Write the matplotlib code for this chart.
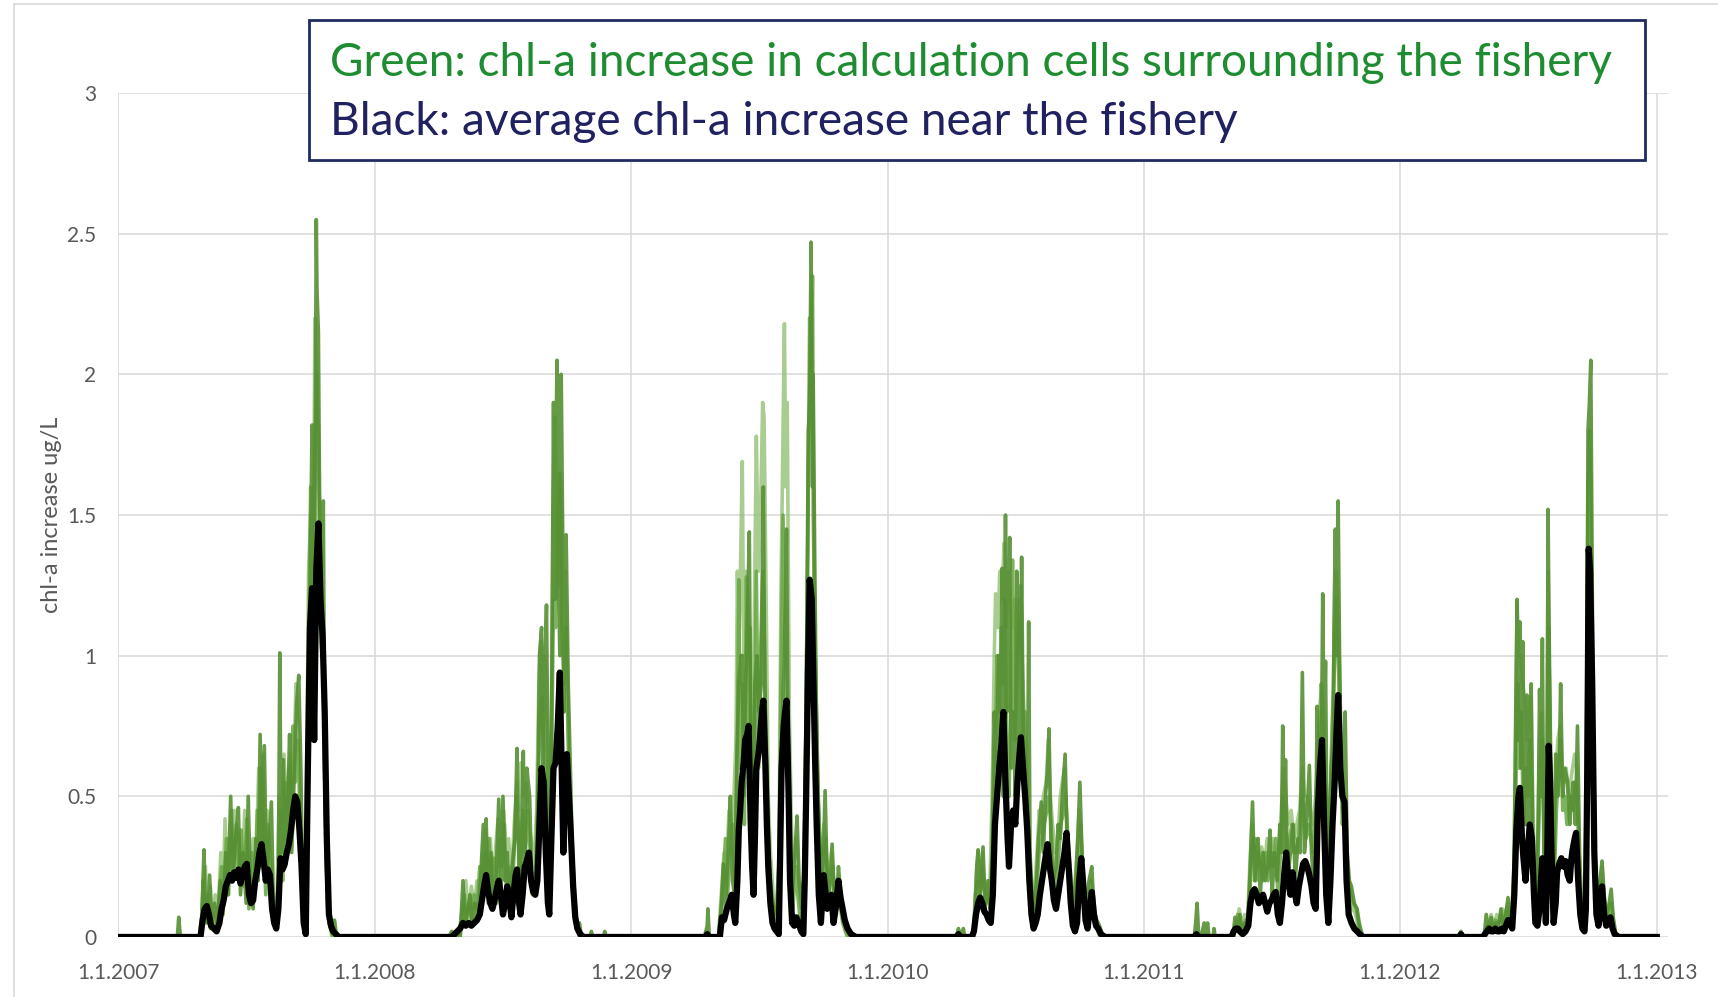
import matplotlib
matplotlib.use("Agg")
import matplotlib.pyplot as plt
import matplotlib.patches as patches
import pandas as pd

# chl-a increase as (day of year, value) per season
black_2007 = [(117,0),(120,0.06),(123,0.10),(126,0.11),(129,0.08),(132,0.04),(136,0.03),(140,0.02),(144,0.05),(147,0.10),(150,0.13),(153,0.18),(156,0.20),(159,0.22),(162,0.20),(165,0.23),(168,0.21),(171,0.24),(174,0.19),(177,0.22),(180,0.25),(183,0.26),(186,0.15),(189,0.12),(192,0.13),(195,0.20),(198,0.24),(201,0.30),(204,0.33),(207,0.27),(210,0.20),(213,0.24),(216,0.22),(219,0.10),(222,0.05),(225,0.03),(228,0.10),(231,0.28),(234,0.24),(237,0.26),(240,0.30),(243,0.33),(246,0.38),(249,0.45),(252,0.50),(255,0.48),(258,0.38),(261,0.25),(264,0.05),(267,0.01),(270,0.60),(273,1.10),(276,1.24),(279,0.70),(282,1.30),(285,1.47),(288,1.20),(291,1.07),(294,0.80),(297,0.35),(300,0.08),(303,0.04),(306,0.02),(310,0.01),(314,0)]
black_2008 = [(110,0),(114,0.01),(118,0.02),(122,0.03),(126,0.05),(130,0.04),(134,0.05),(138,0.04),(142,0.05),(146,0.06),(150,0.08),(153,0.13),(156,0.18),(159,0.22),(162,0.16),(165,0.12),(168,0.10),(171,0.13),(174,0.17),(177,0.20),(180,0.15),(183,0.08),(186,0.12),(189,0.18),(192,0.14),(195,0.07),(198,0.15),(201,0.22),(203,0.24),(206,0.12),(208,0.08),(211,0.15),(214,0.25),(217,0.27),(220,0.30),(223,0.20),(226,0.16),(229,0.15),(232,0.20),(235,0.40),(238,0.60),(241,0.55),(244,0.30),(247,0.12),(249,0.08),(252,0.35),(255,0.60),(258,0.62),(261,0.75),(264,0.94),(267,0.55),(269,0.30),(272,0.60),(274,0.65),(277,0.50),(280,0.35),(283,0.18),(286,0.07),(289,0.03),(293,0.01),(298,0)]
black_2009 = [(105,0),(108,0.01),(111,0),(126,0),(129,0.07),(132,0.06),(136,0.10),(139,0.12),(143,0.15),(146,0.08),(148,0.05),(151,0.20),(153,0.38),(155,0.45),(157,0.55),(160,0.62),(162,0.70),(165,0.72),(167,0.75),(170,0.40),(172,0.25),(174,0.15),(176,0.35),(178,0.60),(181,0.65),(183,0.70),(186,0.80),(188,0.84),(191,0.60),(193,0.40),(195,0.25),(198,0.12),(201,0.05),(204,0.03),(207,0.02),(210,0.01),(212,0.30),(214,0.60),(217,0.75),(219,0.80),(221,0.84),(224,0.50),(226,0.20),(229,0.05),(232,0.04),(235,0.07),(238,0.05),(242,0.02),(245,0.01),(247,0.20),(249,0.50),(252,1.00),(254,1.27),(257,1.20),(259,0.95),(262,0.60),(264,0.40),(267,0.15),(270,0.05),(274,0.22),(277,0.15),(279,0.10),(282,0.12),(285,0.15),(288,0.05),(291,0.10),(295,0.20),(298,0.14),(301,0.10),(304,0.06),(308,0.03),(313,0.01),(320,0)]
black_2010 = [(98,0),(101,0.01),(104,0),(120,0),(123,0.02),(126,0.08),(129,0.12),(132,0.14),(135,0.12),(138,0.09),(141,0.08),(144,0.06),(147,0.05),(150,0.15),(153,0.40),(156,0.50),(159,0.60),(162,0.68),(165,0.80),(168,0.55),(171,0.35),(173,0.25),(176,0.40),(179,0.45),(182,0.40),(185,0.55),(188,0.65),(190,0.71),(193,0.60),(196,0.50),(199,0.38),(202,0.20),(205,0.08),(208,0.03),(211,0.05),(214,0.08),(217,0.15),(220,0.20),(223,0.25),(226,0.30),(228,0.33),(231,0.25),(234,0.20),(237,0.13),(240,0.10),(243,0.15),(246,0.20),(249,0.25),(252,0.30),(255,0.37),(258,0.25),(261,0.12),(264,0.04),(267,0.02),(270,0.05),(273,0.20),(276,0.28),(279,0.18),(282,0.06),(285,0.03),(288,0.10),(291,0.16),(294,0.08),(297,0.04),(300,0.03),(304,0.01),(310,0)]
black_2011 = [(72,0),(75,0.01),(78,0),(125,0),(128,0.02),(131,0.03),(134,0.03),(137,0.02),(141,0.01),(145,0.02),(149,0.04),(152,0.12),(155,0.16),(158,0.17),(161,0.15),(164,0.12),(167,0.14),(170,0.15),(173,0.12),(176,0.09),(179,0.12),(182,0.13),(185,0.15),(188,0.16),(191,0.08),(194,0.05),(197,0.12),(200,0.22),(203,0.30),(206,0.20),(209,0.15),(212,0.23),(215,0.16),(218,0.12),(221,0.18),(224,0.22),(227,0.26),(230,0.27),(233,0.25),(236,0.22),(239,0.18),(242,0.12),(245,0.10),(248,0.45),(251,0.60),(254,0.70),(257,0.40),(260,0.15),(263,0.05),(266,0.20),(269,0.40),(272,0.55),(275,0.75),(277,0.86),(280,0.60),(283,0.50),(286,0.48),(289,0.20),(292,0.08),(296,0.05),(300,0.03),(304,0.02),(308,0.01),(312,0)]
black_2012 = [(84,0),(87,0.01),(90,0),(118,0),(121,0.01),(124,0.02),(127,0.03),(130,0.02),(133,0.02),(136,0.03),(139,0.02),(142,0.02),(145,0.03),(148,0.02),(151,0.04),(154,0.06),(157,0.05),(160,0.03),(163,0.15),(166,0.38),(169,0.50),(171,0.53),(174,0.35),(176,0.28),(179,0.20),(182,0.30),(185,0.40),(188,0.35),(191,0.15),(193,0.05),(196,0.04),(199,0.10),(201,0.20),(203,0.28),(206,0.18),(208,0.05),(210,0.30),(212,0.68),(214,0.55),(216,0.30),(219,0.05),(222,0.12),(224,0.23),(227,0.26),(230,0.28),(233,0.25),(236,0.27),(239,0.22),(242,0.20),(244,0.27),(246,0.31),(249,0.35),(251,0.37),(254,0.20),(257,0.08),(260,0.03),(263,0.02),(265,0.10),(267,0.60),(269,1.38),(271,1.30),(274,0.90),(277,0.30),(280,0.08),(283,0.04),(286,0.12),(288,0.18),(291,0.08),(294,0.04),(297,0.05),(300,0.07),(303,0.03),(306,0.01),(312,0)]

# darker green cells
g1_2007 = [(84,0),(86,0.07),(88,0.01),(90,0),(118,0),(120,0.15),(122,0.31),(124,0.10),(127,0.05),(130,0.22),(133,0.05),(137,0.12),(141,0.04),(145,0.20),(149,0.08),(153,0.30),(156,0.15),(160,0.50),(163,0.20),(167,0.35),(171,0.46),(174,0.15),(178,0.30),(182,0.12),(185,0.50),(188,0.20),(192,0.10),(196,0.35),(199,0.20),(202,0.72),(205,0.30),(208,0.68),(211,0.20),(214,0.30),(218,0.48),(221,0.10),(225,0.05),(228,0.20),(230,1.01),(232,0.30),(235,0.63),(238,0.25),(241,0.45),(244,0.72),(247,0.30),(251,0.60),(254,0.83),(257,0.93),(260,0.60),(263,0.10),(266,0.02),(270,0.70),(273,1.20),(276,1.82),(279,0.90),(282,2.55),(283,2.30),(285,2.15),(288,1.10),(290,1.00),(292,1.55),(294,0.60),(297,0.20),(300,0.05),(304,0.02),(308,0.06),(311,0)]
g1_2008 = [(106,0),(110,0.02),(113,0),(122,0),(126,0.20),(129,0.05),(133,0.10),(136,0.15),(139,0.04),(143,0.12),(147,0.06),(151,0.20),(155,0.40),(157,0.15),(159,0.42),(162,0.12),(166,0.30),(169,0.10),(173,0.20),(177,0.49),(180,0.15),(183,0.50),(186,0.20),(189,0.30),(192,0.10),(196,0.25),(200,0.35),(203,0.67),(206,0.20),(209,0.30),(212,0.66),(214,0.25),(217,0.60),(221,0.50),(224,0.20),(228,0.15),(232,0.30),(235,1.00),(238,1.10),(240,0.50),(242,0.90),(245,1.18),(248,0.40),(251,0.30),(255,1.90),(257,1.20),(258,1.62),(260,2.05),(262,1.30),(264,1.00),(266,2.00),(268,1.45),(270,0.80),(273,1.43),(276,0.90),(279,0.60),(282,0.30),(285,0.15),(288,0.05),(292,0.05),(295,0),(307,0),(309,0.02),(311,0),(326,0),(328,0.02),(330,0)]
g1_2009 = [(104,0),(108,0.04),(109,0.10),(111,0),(124,0),(128,0.10),(131,0.26),(134,0.10),(138,0.30),(141,0.50),(144,0.20),(147,0.15),(150,0.60),(153,0.90),(156,1.00),(158,1.00),(160,0.50),(162,0.80),(165,1.10),(168,1.44),(170,0.70),(173,0.30),(176,0.90),(179,1.00),(182,0.80),(185,0.90),(188,1.60),(190,0.90),(193,0.60),(196,0.30),(199,0.15),(203,0.10),(207,0.08),(211,0.30),(214,0.70),(218,1.00),(221,1.45),(223,0.80),(226,0.30),(229,0.15),(233,0.30),(236,0.43),(239,0.20),(243,0.10),(247,0.30),(250,1.10),(252,1.80),(254,1.90),(256,2.47),(258,1.60),(259,2.00),(261,1.40),(263,0.90),(266,0.50),(269,0.30),(272,0.15),(276,0.52),(279,0.20),(282,0.15),(286,0.33),(289,0.15),(292,0.10),(295,0.25),(298,0.15),(302,0.08),(306,0.05),(310,0.02),(315,0)]
g1_2010 = [(98,0),(101,0.03),(103,0),(108,0.03),(110,0),(122,0),(125,0.10),(127,0.25),(129,0.31),(132,0.15),(136,0.32),(139,0.10),(143,0.20),(146,0.10),(149,0.30),(152,0.80),(155,0.60),(158,1.00),(161,0.70),(163,1.31),(165,0.50),(168,1.50),(170,0.80),(172,1.00),(174,1.42),(176,0.60),(179,0.80),(182,0.50),(184,1.30),(186,0.90),(188,0.60),(191,1.35),(193,0.80),(196,0.50),(199,0.30),(201,1.12),(203,0.30),(206,0.15),(209,0.10),(212,0.20),(215,0.35),(219,0.48),(222,0.30),(225,0.50),(228,0.60),(230,0.74),(233,0.30),(236,0.20),(240,0.25),(243,0.40),(246,0.35),(249,0.50),(253,0.65),(256,0.30),(260,0.20),(264,0.10),(268,0.20),(271,0.35),(274,0.55),(277,0.30),(280,0.15),(283,0.10),(287,0.20),(291,0.25),(294,0.10),(298,0.06),(302,0.04),(306,0.01),(310,0)]
g1_2011 = [(72,0),(74,0.05),(76,0.12),(78,0.02),(82,0),(86,0.05),(88,0),(91,0.05),(93,0),(99,0),(100,0.03),(102,0),(127,0),(130,0.07),(133,0.02),(137,0.08),(140,0.02),(144,0.05),(148,0.04),(151,0.20),(155,0.48),(158,0.20),(161,0.30),(163,0.35),(166,0.15),(170,0.30),(173,0.20),(177,0.25),(180,0.38),(183,0.15),(186,0.30),(190,0.20),(194,0.40),(196,0.30),(198,0.75),(200,0.30),(202,0.63),(205,0.20),(209,0.30),(213,0.40),(216,0.20),(220,0.35),(223,0.30),(226,0.94),(229,0.30),(232,0.40),(236,0.61),(239,0.30),(242,0.20),(245,0.30),(247,0.82),(250,0.50),(253,0.60),(255,1.22),(257,0.70),(259,0.98),(261,0.40),(264,0.30),(267,0.60),(270,0.70),(271,1.10),(273,1.45),(275,1.00),(277,1.55),(279,1.00),(282,0.50),(285,0.60),(287,0.80),(290,0.30),(293,0.20),(296,0.18),(300,0.12),(304,0.10),(307,0.05),(310,0.02),(313,0)]
g1_2012 = [(84,0),(87,0.02),(90,0),(120,0),(123,0.08),(126,0.02),(130,0.07),(133,0.02),(137,0.05),(140,0.03),(144,0.10),(147,0.04),(150,0.06),(154,0.14),(157,0.05),(160,0.03),(163,0.30),(165,0.80),(167,1.20),(169,0.70),(171,1.12),(173,0.60),(175,1.05),(177,0.50),(179,0.40),(181,0.86),(183,0.50),(185,0.30),(187,0.90),(189,0.40),(192,0.10),(195,0.15),(197,0.40),(199,0.88),(201,0.50),(203,1.06),(205,0.30),(208,0.20),(210,0.60),(211,1.52),(213,1.00),(215,0.60),(217,0.20),(220,0.30),(222,0.65),(225,0.50),(227,0.60),(229,0.90),(232,0.50),(235,0.60),(239,0.55),(242,0.40),(245,0.50),(247,0.55),(250,0.40),(253,0.75),(256,0.30),(259,0.10),(262,0.05),(265,0.20),(267,1.20),(268,1.80),(270,1.90),(272,2.05),(274,1.30),(276,0.50),(279,0.20),(282,0.10),(285,0.20),(288,0.27),(291,0.15),(294,0.08),(297,0.10),(301,0.17),(304,0.07),(307,0.02),(310,0)]

# medium green cells
g2_2007 = [(116,0),(119,0.08),(121,0.20),(124,0.05),(128,0.15),(131,0.03),(135,0.08),(139,0.02),(143,0.10),(147,0.25),(150,0.12),(154,0.35),(157,0.15),(161,0.45),(164,0.25),(168,0.40),(172,0.20),(175,0.38),(179,0.18),(183,0.42),(186,0.10),(190,0.30),(194,0.15),(198,0.45),(201,0.25),(204,0.60),(207,0.35),(210,0.15),(213,0.40),(216,0.30),(220,0.15),(223,0.05),(227,0.10),(231,0.45),(234,0.20),(237,0.55),(240,0.35),(243,0.60),(246,0.40),(249,0.75),(252,0.55),(256,0.70),(259,0.40),(262,0.15),(265,0.05),(268,0.30),(271,1.00),(274,1.60),(277,1.20),(280,1.70),(283,2.00),(286,1.60),(289,1.30),(292,0.90),(295,0.40),(298,0.10),(302,0.03),(306,0)]
g2_2008 = [(120,0),(124,0.08),(128,0.15),(131,0.05),(135,0.12),(138,0.06),(142,0.15),(146,0.10),(150,0.25),(153,0.12),(157,0.30),(160,0.20),(163,0.35),(167,0.15),(170,0.28),(174,0.12),(178,0.35),(181,0.25),(185,0.40),(188,0.15),(191,0.25),(195,0.12),(199,0.30),(202,0.50),(205,0.35),(208,0.20),(211,0.45),(215,0.30),(218,0.45),(222,0.30),(225,0.15),(229,0.20),(233,0.55),(236,0.80),(239,0.85),(243,0.60),(246,0.35),(249,0.20),(252,0.60),(255,1.20),(258,1.10),(261,1.50),(264,1.65),(267,1.10),(270,0.90),(273,1.10),(276,0.70),(279,0.45),(282,0.20),(286,0.08),(290,0.02),(294,0)]
g2_2009 = [(124,0),(127,0.08),(131,0.20),(134,0.35),(137,0.15),(141,0.30),(144,0.40),(147,0.20),(150,0.45),(153,1.27),(155,0.60),(158,0.90),(161,0.40),(164,1.28),(166,0.70),(169,1.10),(171,0.50),(174,0.40),(178,1.30),(181,0.60),(184,1.00),(187,1.30),(190,1.00),(192,0.50),(195,0.35),(198,0.20),(202,0.12),(206,0.06),(210,0.15),(213,0.90),(216,1.50),(218,1.20),(220,0.90),(223,0.60),(226,0.25),(230,0.10),(234,0.25),(237,0.15),(241,0.05),(245,0.10),(248,0.60),(251,1.30),(254,2.20),(256,1.90),(258,2.35),(260,1.30),(262,1.00),(265,0.60),(268,0.35),(271,0.20),(274,0.30),(277,0.35),(280,0.15),(284,0.20),(287,0.25),(290,0.10),(294,0.18),(297,0.12),(301,0.05),(305,0.02),(309,0)]
g2_2010 = [(122,0),(125,0.15),(128,0.20),(131,0.10),(134,0.25),(137,0.18),(141,0.12),(144,0.15),(147,0.10),(150,0.30),(153,0.60),(156,1.00),(159,0.80),(162,1.10),(165,0.90),(167,1.20),(170,0.60),(173,0.50),(176,0.90),(178,1.34),(181,0.70),(184,0.90),(187,1.10),(190,1.25),(193,0.70),(196,0.80),(199,0.50),(202,0.25),(205,0.10),(208,0.05),(212,0.15),(216,0.30),(220,0.35),(223,0.40),(227,0.45),(230,0.50),(233,0.40),(236,0.25),(240,0.15),(244,0.30),(247,0.40),(251,0.45),(254,0.50),(257,0.30),(261,0.15),(265,0.05),(269,0.15),(272,0.30),(275,0.40),(278,0.20),(282,0.08),(286,0.10),(290,0.20),(293,0.15),(297,0.05),(301,0.02),(305,0)]
g2_2011 = [(128,0),(131,0.04),(134,0.08),(137,0.05),(141,0.03),(145,0.06),(148,0.05),(151,0.15),(154,0.30),(157,0.35),(160,0.20),(163,0.30),(167,0.25),(170,0.20),(174,0.30),(177,0.20),(181,0.30),(184,0.25),(188,0.35),(191,0.15),(195,0.30),(198,0.50),(201,0.45),(204,0.30),(208,0.35),(211,0.40),(214,0.30),(218,0.30),(222,0.40),(225,0.50),(228,0.45),(231,0.35),(235,0.40),(238,0.35),(241,0.30),(244,0.40),(247,0.60),(250,0.75),(253,0.90),(256,0.80),(259,0.50),(262,0.20),(265,0.40),(268,0.70),(271,0.90),(274,1.20),(277,1.00),(280,0.70),(283,0.40),(286,0.50),(289,0.30),(292,0.20),(295,0.15),(299,0.12),(303,0.10),(306,0.05),(309,0)]
g2_2012 = [(120,0),(124,0.04),(128,0.05),(132,0.03),(136,0.06),(140,0.04),(144,0.08),(148,0.05),(152,0.10),(155,0.08),(158,0.04),(162,0.10),(165,0.50),(168,0.90),(170,0.60),(173,0.80),(176,0.40),(179,0.60),(182,0.50),(185,0.70),(188,0.50),(191,0.20),(194,0.10),(197,0.30),(200,0.60),(203,0.70),(206,0.30),(209,0.30),(212,1.10),(214,0.70),(217,0.30),(220,0.20),(223,0.45),(226,0.60),(229,0.70),(232,0.45),(235,0.50),(238,0.40),(241,0.45),(244,0.50),(247,0.45),(250,0.55),(253,0.50),(256,0.20),(259,0.07),(262,0.04),(265,0.30),(268,1.50),(270,1.80),(272,1.60),(274,0.90),(277,0.30),(280,0.10),(283,0.06),(286,0.15),(289,0.20),(292,0.10),(295,0.06),(298,0.08),(301,0.12),(304,0.05),(308,0)]

# light green cells
g3_2007 = [(118,0),(121,0.12),(124,0.25),(127,0.08),(131,0.18),(134,0.05),(138,0.15),(142,0.08),(146,0.30),(149,0.12),(152,0.42),(155,0.20),(158,0.35),(162,0.30),(165,0.45),(168,0.25),(172,0.38),(176,0.20),(180,0.45),(184,0.30),(188,0.20),(192,0.35),(196,0.25),(200,0.60),(203,0.45),(206,0.65),(209,0.30),(212,0.45),(215,0.30),(219,0.20),(223,0.10),(226,0.15),(229,0.50),(233,0.40),(236,0.65),(239,0.45),(242,0.55),(245,0.65),(248,0.50),(251,0.70),(253,0.90),(256,0.75),(259,0.50),(262,0.20),(265,0.08),(268,0.50),(271,1.30),(274,1.50),(277,1.00),(280,2.20),(283,1.90),(286,1.40),(289,1.20),(291,1.10),(294,0.70),(297,0.30),(300,0.10),(304,0)]
g3_2008 = [(122,0),(126,0.10),(130,0.20),(134,0.08),(138,0.18),(142,0.10),(146,0.20),(150,0.15),(154,0.30),(158,0.38),(161,0.25),(165,0.35),(168,0.20),(172,0.30),(176,0.42),(180,0.35),(184,0.45),(187,0.30),(191,0.35),(195,0.20),(199,0.40),(203,0.55),(206,0.45),(209,0.62),(212,0.50),(216,0.55),(219,0.40),(223,0.35),(227,0.25),(231,0.45),(234,0.90),(237,1.05),(240,0.80),(243,1.00),(246,0.60),(249,0.35),(252,0.80),(255,1.60),(257,1.85),(260,1.40),(263,1.25),(266,1.60),(269,1.20),(272,1.30),(275,0.80),(278,0.50),(281,0.30),(284,0.12),(288,0.04),(292,0)]
g3_2009 = [(124,0),(128,0.15),(132,0.30),(135,0.20),(139,0.45),(142,0.30),(146,0.50),(149,0.70),(151,1.30),(153,1.00),(155,1.25),(158,1.69),(160,1.00),(163,1.30),(166,1.20),(169,1.00),(172,0.70),(175,1.10),(178,1.78),(181,1.30),(184,1.50),(187,1.90),(189,1.85),(192,1.20),(195,0.50),(198,0.30),(202,0.15),(206,0.10),(210,0.25),(213,1.20),(216,1.80),(218,2.18),(220,1.60),(222,1.90),(225,0.80),(228,0.40),(231,0.20),(235,0.35),(238,0.20),(242,0.10),(246,0.20),(249,0.80),(252,1.60),(255,2.10),(257,2.30),(259,1.50),(261,1.20),(264,0.70),(267,0.40),(270,0.25),(274,0.40),(277,0.30),(281,0.20),(285,0.30),(288,0.20),(292,0.15),(296,0.20),(299,0.10),(303,0.05),(307,0)]
g3_2010 = [(123,0),(126,0.20),(129,0.30),(132,0.20),(135,0.30),(138,0.20),(142,0.15),(146,0.20),(149,0.50),(152,1.00),(154,1.22),(157,1.10),(160,1.30),(163,1.20),(166,1.40),(169,1.10),(172,1.30),(175,1.20),(178,1.10),(181,1.20),(184,1.00),(187,1.20),(190,1.10),(193,0.90),(196,0.70),(199,0.50),(202,0.30),(205,0.20),(209,0.15),(213,0.30),(216,0.45),(219,0.40),(222,0.50),(226,0.55),(229,0.70),(232,0.50),(235,0.40),(239,0.30),(243,0.35),(246,0.50),(249,0.55),(252,0.60),(255,0.45),(258,0.30),(262,0.20),(266,0.15),(270,0.30),(273,0.45),(276,0.35),(279,0.20),(283,0.12),(287,0.15),(290,0.20),(294,0.10),(298,0.04),(302,0)]
g3_2011 = [(128,0),(132,0.05),(136,0.10),(140,0.04),(144,0.08),(148,0.06),(151,0.25),(154,0.40),(157,0.30),(160,0.35),(164,0.28),(168,0.32),(172,0.26),(176,0.35),(180,0.30),(184,0.35),(188,0.30),(192,0.30),(196,0.45),(199,0.60),(202,0.50),(206,0.40),(210,0.45),(214,0.35),(218,0.40),(222,0.45),(226,0.60),(229,0.50),(233,0.50),(237,0.45),(241,0.40),(245,0.50),(249,0.70),(252,0.80),(255,0.70),(258,0.60),(262,0.30),(266,0.50),(269,0.80),(272,1.10),(274,1.30),(277,1.20),(280,0.80),(283,0.50),(286,0.40),(290,0.25),(294,0.15),(298,0.10),(302,0.08),(306,0.03),(310,0)]
g3_2012 = [(122,0),(126,0.05),(130,0.08),(134,0.04),(138,0.08),(142,0.05),(146,0.10),(150,0.08),(154,0.12),(158,0.06),(162,0.20),(165,0.70),(167,1.19),(169,1.00),(172,1.00),(175,0.90),(178,0.85),(181,0.70),(184,0.80),(187,0.85),(190,0.40),(193,0.20),(196,0.30),(199,0.70),(202,0.80),(205,0.40),(208,0.35),(211,1.30),(213,0.90),(216,0.40),(219,0.30),(222,0.55),(225,0.70),(228,0.75),(231,0.60),(234,0.55),(237,0.60),(240,0.50),(243,0.55),(246,0.60),(249,0.65),(252,0.60),(255,0.30),(258,0.10),(262,0.05),(265,0.40),(268,1.60),(270,1.70),(273,1.20),(276,0.40),(279,0.15),(282,0.08),(285,0.18),(288,0.25),(291,0.12),(295,0.08),(299,0.12),(302,0.10),(305,0.03),(309,0)]

years = [2007, 2008, 2009, 2010, 2011, 2012]
tick_years = [2007, 2008, 2009, 2010, 2011, 2012, 2013]
y_ticks = [0, 0.5, 1, 1.5, 2, 2.5, 3]
y_labels = ["0", "0.5", "1", "1.5", "2", "2.5", "3"]

legend_green = "Green: chl-a increase in calculation cells surrounding the fishery"
legend_black = "Black: average chl-a increase near the fishery"
y_title = "chl-a increase ug/L"


def build(seasons):
    # join the seasons into one series with zero outside them
    dates = [pd.Timestamp("2007-01-01")]
    vals = [0.0]
    for yr, pts in zip(years, seasons):
        start = pd.Timestamp(year=yr, month=1, day=1)
        for d, v in pts:
            dates.append(start + pd.Timedelta(days=d))
            vals.append(v)
    dates.append(pd.Timestamp("2013-01-01"))
    vals.append(0.0)
    return dates, vals


plt.rcParams["font.family"] = ["Lato", "DejaVu Sans"]

fig = plt.figure(figsize=(17.18, 9.97), dpi=100)
ax = fig.add_axes([0.0689, 0.0602, 0.9020, 0.8465])

green3 = build([g3_2007, g3_2008, g3_2009, g3_2010, g3_2011, g3_2012])
green2 = build([g2_2007, g2_2008, g2_2009, g2_2010, g2_2011, g2_2012])
green1 = build([g1_2007, g1_2008, g1_2009, g1_2010, g1_2011, g1_2012])
black = build([black_2007, black_2008, black_2009, black_2010, black_2011, black_2012])

ax.plot(green3[0], green3[1], color="#8cbd6c", lw=2.6, alpha=0.75, zorder=2)
ax.plot(green2[0], green2[1], color="#68a641", lw=2.6, alpha=0.85, zorder=3)
ax.plot(green1[0], green1[1], color="#568f33", lw=2.6, alpha=0.9, zorder=4)
ax.plot(black[0], black[1], color="black", lw=4.5, zorder=5,
        solid_joinstyle="round")

ax.set_ylim(0, 3)
ax.set_xlim(pd.Timestamp("2007-01-01"), pd.Timestamp("2013-01-17"))
ax.set_yticks(y_ticks)
ax.set_yticklabels(y_labels)
ax.set_xticks([pd.Timestamp(year=y, month=1, day=1) for y in tick_years])
ax.set_xticklabels(["1.1.%d" % y for y in tick_years])
ax.tick_params(length=0, labelsize=15, labelcolor="#595959")
ax.tick_params(axis="x", pad=19)
ax.tick_params(axis="y", pad=16)
ax.grid(True, color="#d9d9d9", lw=1.1, zorder=0)
ax.set_axisbelow(True)
for s in ax.spines.values():
    s.set_visible(False)

fig.text(52 / 1718, 1 - 515 / 997, y_title, rotation=90, ha="center",
         va="center", fontsize=17, color="#595959")

# outer chart border (left and top visible)
fig.add_artist(plt.Line2D([14 / 1718, 14 / 1718], [0, 1 - 4 / 997],
                          color="#d9d9d9", lw=1.2, transform=fig.transFigure))
fig.add_artist(plt.Line2D([14 / 1718, 1], [1 - 4 / 997, 1 - 4 / 997],
                          color="#d9d9d9", lw=1.2, transform=fig.transFigure))

# legend box
box = patches.Rectangle((309 / 1718, 1 - 160 / 997), 1336 / 1718, 140 / 997,
                        transform=fig.transFigure, facecolor="white",
                        edgecolor="#1f2a5e", lw=2.0, zorder=10)
fig.add_artist(box)
t1 = fig.text(330 / 1718, 1 - 76 / 997, legend_green, color="#1e8c30",
              fontsize=30, va="baseline", ha="left", zorder=11)
t2 = fig.text(330 / 1718, 1 - 135 / 997, legend_black, color="#1f2160",
              fontsize=30, va="baseline", ha="left", zorder=11)
fig.canvas.draw()
w = t1.get_window_extent().width
size = 30 * 1282 / w
t1.set_fontsize(size)
t2.set_fontsize(size)

fig.savefig("out.png", dpi=100)
